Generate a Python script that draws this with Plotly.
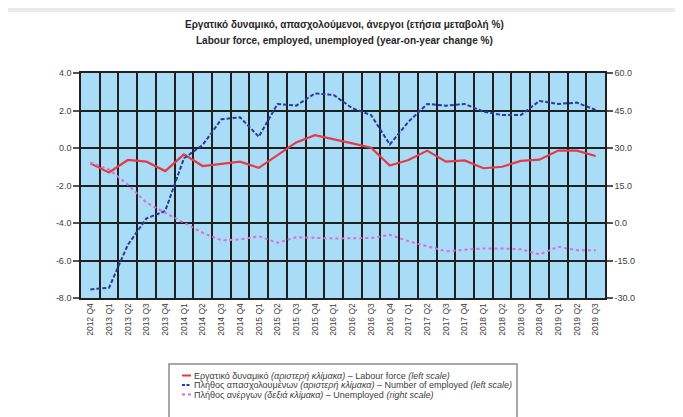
"""Labour force, employed, unemployed - year-on-year change (%)."""

import plotly.graph_objects as go

quarters = [
    "2012 Q4",
    "2013 Q1", "2013 Q2", "2013 Q3", "2013 Q4",
    "2014 Q1", "2014 Q2", "2014 Q3", "2014 Q4",
    "2015 Q1", "2015 Q2", "2015 Q3", "2015 Q4",
    "2016 Q1", "2016 Q2", "2016 Q3", "2016 Q4",
    "2017 Q1", "2017 Q2", "2017 Q3", "2017 Q4",
    "2018 Q1", "2018 Q2", "2018 Q3", "2018 Q4",
    "2019 Q1", "2019 Q2", "2019 Q3",
]

labour_force = [-0.82, -1.30, -0.64, -0.73, -1.23, -0.34, -0.96, -0.83, -0.73,
                -1.06, -0.37, 0.30, 0.68, 0.48, 0.25, 0.02, -0.94, -0.64, -0.14,
                -0.73, -0.66, -1.08, -1.00, -0.69, -0.62, -0.14, -0.14, -0.43]

employed = [-7.54, -7.45, -5.17, -3.75, -3.36, -0.55, 0.16, 1.53, 1.64, 0.60,
            2.35, 2.26, 2.91, 2.83, 2.12, 1.76, 0.19, 1.40, 2.35, 2.26, 2.35,
            1.94, 1.76, 1.76, 2.51, 2.35, 2.42, 2.03]

unemployed = [24.1, 21.4, 15.4, 8.1, 4.1, 0.1, -3.9, -6.9, -6.6, -5.3, -7.9,
              -5.7, -6.1, -6.2, -6.1, -6.0, -4.7, -7.3, -9.3, -11.3, -10.7,
              -10.2, -10.2, -10.5, -12.6, -9.5, -10.9, -10.9]

left_ticks = [-8, -6, -4, -2, 0, 2, 4]
right_ticks = [-30, -15, 0, 15, 30, 45, 60]

title_gr = "Εργατικό δυναμικό, απασχολούμενοι, άνεργοι (ετήσια μεταβολή %)"
title_en = "Labour force, employed, unemployed (year-on-year change %)"

legend_labels = [
    "Εργατικό δυναμικό <i>(αριστερή κλίμακα)</i> – Labour force <i>(left scale)</i>",
    "Πλήθος απασχολουμένων <i>(αριστερή κλίμακα)</i> – Number of employed <i>(left scale)</i>",
    "Πλήθος ανέργων <i>(δεξιά κλίμακα)</i> – Unemployed <i>(right scale)</i>",
]

RED = "#E63B46"
BLUE = "#2B3A9E"
PINK = "#DD6CD6"
TEXT = "#404040"
GRID = "#202020"
FONT = "Liberation Sans, Arial, sans-serif"

# page puts the figure 8px in from the window corner
OFF = 8
W, H = 683 - OFF, 417 - OFF
# plot area, window pixels
L, R, T, B = 81, 605, 73, 298


def px_x(x):
    return (x - L) / (R - L)


def px_y(y):
    return (B - y) / (B - T)


fig = go.Figure()
fig.add_trace(go.Scatter(x=quarters, y=labour_force, mode="lines",
                         line=dict(color=RED, width=2.2), yaxis="y"))
fig.add_trace(go.Scatter(x=quarters, y=employed, mode="lines",
                         line=dict(color=BLUE, width=2, dash="4px,2px"), yaxis="y"))
fig.add_trace(go.Scatter(x=quarters, y=unemployed, mode="lines",
                         line=dict(color=PINK, width=2, dash="dot"), yaxis="y2"))

shapes = [
    # grey strip at the top of the screenshot
    dict(type="rect", xref="paper", yref="paper", x0=px_x(0), x1=px_x(700),
         y0=px_y(12), y1=px_y(0), fillcolor="#EAEAEA", line_width=0, layer="below"),
    # legend box
    dict(type="rect", xref="paper", yref="paper", x0=px_x(169), x1=px_x(517),
         y0=px_y(430), y1=px_y(364), fillcolor="white",
         line=dict(color="#8C8C8C", width=1.5)),
]

annotations = [
    dict(text="<b>" + title_gr + "</b>", xref="paper", yref="paper",
         x=px_x(344), y=px_y(17), showarrow=False,
         font=dict(family=FONT, size=10, color="#262626")),
    dict(text="<b>" + title_en + "</b>", xref="paper", yref="paper",
         x=px_x(344), y=px_y(33), showarrow=False,
         font=dict(family=FONT, size=10, color="#262626")),
]

legend_styles = [(RED, "solid"), (BLUE, "3px,1.5px"), (PINK, "dot")]
for k, (label, (color, dash)) in enumerate(zip(legend_labels, legend_styles)):
    yy = 375.5 + 9.5 * k
    shapes.append(dict(type="line", xref="paper", yref="paper",
                       x0=px_x(182), x1=px_x(191), y0=px_y(yy), y1=px_y(yy),
                       line=dict(color=color, width=2, dash=dash)))
    annotations.append(dict(text=label, xref="paper", yref="paper",
                            x=px_x(193), y=px_y(yy), xanchor="left",
                            yanchor="middle", showarrow=False, borderpad=0,
                            font=dict(family=FONT, size=9, color=TEXT)))

fig.update_layout(
    width=W, height=H,
    margin=dict(l=L - OFF, r=W - (R - OFF), t=T - OFF, b=H - (B - OFF),
                autoexpand=False),
    paper_bgcolor="white",
    plot_bgcolor="#A9DCF6",
    showlegend=False,
    font=dict(family=FONT, size=9, color=TEXT),
    xaxis=dict(
        type="category", tickson="boundaries", ticks="",
        range=[-0.5, len(quarters) - 0.5],
        tickangle=-90, tickfont=dict(size=8.5),
        showgrid=True, gridcolor=GRID, gridwidth=1.6,
        showline=True, linecolor=GRID, linewidth=1.6, mirror=True,
    ),
    yaxis=dict(
        range=[-8, 4], tickvals=left_ticks,
        ticktext=["%.1f" % v for v in left_ticks],
        ticks="outside", ticklen=6, tickcolor="#555555", tickwidth=1.5,
        showgrid=True, gridcolor=GRID, gridwidth=1.6, zeroline=False,
        showline=True, linecolor=GRID, linewidth=1.6,
    ),
    yaxis2=dict(
        range=[-30, 60], tickvals=right_ticks,
        ticktext=["%.1f" % v for v in right_ticks],
        overlaying="y", side="right",
        ticks="outside", ticklen=6, tickcolor="#555555", tickwidth=1.5,
        showgrid=False, zeroline=False,
        showline=True, linecolor=GRID, linewidth=1.6,
    ),
    shapes=shapes,
    annotations=annotations,
)

fig.write_html("out.html")
